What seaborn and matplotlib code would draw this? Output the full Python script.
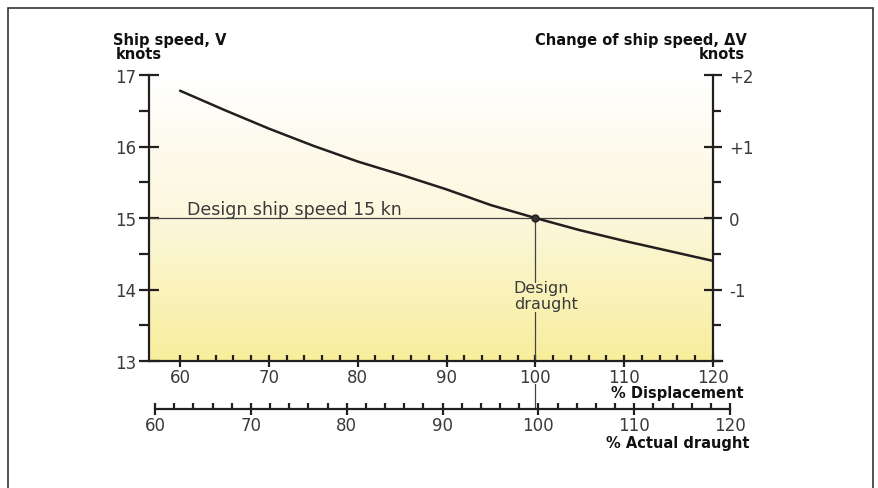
"""
Ship speed vs displacement / actual draught, with change of speed on the right.
"""

import numpy as np
import pandas as pd
import matplotlib
matplotlib.use("Agg")
import matplotlib.pyplot as plt
from matplotlib.ticker import MultipleLocator
from matplotlib.colors import LinearSegmentedColormap
from matplotlib.patches import Rectangle
import seaborn as sns

# values
displacement = [60, 65, 70, 75, 80, 85, 90, 95, 100, 105, 110, 115, 120]
ship_speed = [16.78, 16.51, 16.25, 16.01, 15.79, 15.60, 15.40, 15.18, 15.00,
              14.83, 14.68, 14.54, 14.40]
design_speed = 15
design_displacement = 100
speed_ticks = [13, 14, 15, 16, 17]
delta_ticks = [-1, 0, 1, 2]
delta_labels = ["-1", "0", "+1", "+2"]
displacement_ticks = [60, 70, 80, 90, 100, 110, 120]
draught_ticks = [60, 70, 80, 90, 100, 110, 120]
minor_pct_ticks = [v for v in range(62, 120, 2) if v % 10]

sns.set_theme(style="white")
plt.rcParams['font.family'] = ['DejaVu Sans']

ink = "#231f20"
label_grey = "#3a3a3a"
tick_fs = 12

W, H = 879, 489
fig = plt.figure(figsize=(W / 100, H / 100), dpi=100)

# main axes: spine positions measured in pixels
x0, x1, ytop, ybot = 149, 713, 76, 362
ax = fig.add_axes([x0 / W, (H - ybot) / H, (x1 - x0) / W, (ybot - ytop) / H])

# white -> yellow background gradient (yellow at the bottom)
cmap = LinearSegmentedColormap.from_list("bg", ["#ffffff", "#fcf7dc", "#f7ee9c"])
grad = np.linspace(0, 1, 256).reshape(-1, 1)
ax.imshow(grad, aspect="auto", cmap=cmap, extent=[56.5, 120, 13, 17],
          origin="upper", zorder=0)
ax.set_xlim(56.5, 120)
ax.set_ylim(13, 17)

df = pd.DataFrame({"Displacement": displacement, "Speed": ship_speed})
sns.lineplot(data=df, x="Displacement", y="Speed", ax=ax, color=ink,
             linewidth=1.8, zorder=3)

# design speed line and design draught line
ax.axhline(design_speed, color="#444444", linewidth=0.9, zorder=2)
ax.plot([design_displacement, design_displacement], [design_speed, 14.105],
        color="#444444", linewidth=0.9, zorder=2)
ax.plot([design_displacement, design_displacement], [13.685, 13.0],
        color="#444444", linewidth=0.9, zorder=2)
ax.plot([design_displacement, design_displacement], [12.68, 12.33],
        color="#444444", linewidth=0.9, zorder=2, clip_on=False)
ax.plot([design_displacement], [design_speed], marker="o", markersize=5,
        color="#333333", markeredgecolor=ink, zorder=4)

ax.text(60.8, 15.056, "Design ship speed 15 kn", fontsize=12.5,
        color=label_grey, va="baseline", ha="left")
ax.text(100.7, 14.03, "Design", fontsize=11.5, color=label_grey,
        ha="center", va="center")
ax.text(101.2, 13.80, "draught", fontsize=11.5, color=label_grey,
        ha="center", va="center")

ax.set_xlabel("")
ax.set_ylabel("")

for s in ["top", "right"]:
    ax.spines[s].set_visible(False)
for s in ["left", "bottom"]:
    ax.spines[s].set_color(ink)
    ax.spines[s].set_linewidth(1.6)
ax.spines["bottom"].set_bounds(56.5, 121)

ax.set_yticks(speed_ticks)
ax.yaxis.set_minor_locator(MultipleLocator(0.5))
ax.tick_params(axis="y", which="major", direction="inout", length=14,
               width=1.6, color=ink, labelsize=tick_fs, labelcolor=label_grey,
               pad=2, left=True)
ax.tick_params(axis="y", which="minor", direction="out", length=7,
               width=1.6, color=ink, left=True)

ax.set_xticks(displacement_ticks)
ax.set_xticks(minor_pct_ticks, minor=True)
ax.tick_params(axis="x", which="major", direction="inout", length=8.5,
               width=1.6, color=ink, labelsize=tick_fs, labelcolor=label_grey,
               pad=1, bottom=True)
ax.tick_params(axis="x", which="minor", direction="in", length=4.3,
               width=1.6, color=ink, bottom=True, top=False)

# right axis: change of speed
ax2 = ax.twinx()
ax2.set_ylim(-2, 2)
for s in ["top", "left", "bottom"]:
    ax2.spines[s].set_visible(False)
ax2.spines["right"].set_color(ink)
ax2.spines["right"].set_linewidth(1.6)
ax2.set_yticks(delta_ticks, delta_labels)
ax2.yaxis.set_minor_locator(MultipleLocator(0.5))
ax2.tick_params(axis="y", which="major", direction="inout", length=13,
                width=1.6, color=ink, labelsize=tick_fs, labelcolor=label_grey,
                pad=5, right=True)
ax2.tick_params(axis="y", which="minor", direction="out", length=6,
                width=1.6, color=ink, right=True)
ax2.grid(False)

# second scale: actual draught
yd = 410
ax3 = fig.add_axes([155 / W, (H - yd) / H, (730 - 155) / W, 0.0001])
ax3.set_xlim(60, 120)
ax3.set_yticks([])
for s in ["top", "left", "right"]:
    ax3.spines[s].set_visible(False)
ax3.spines["bottom"].set_color(ink)
ax3.spines["bottom"].set_linewidth(1.6)
ax3.patch.set_alpha(0)
ax3.set_xticks(draught_ticks)
ax3.set_xticks(minor_pct_ticks, minor=True)
ax3.tick_params(axis="x", which="major", direction="inout", length=8,
                width=1.6, color=ink, labelsize=tick_fs, labelcolor=label_grey,
                pad=1, bottom=True)
ax3.tick_params(axis="x", which="minor", direction="in", length=4.3,
                width=1.6, color=ink, bottom=True, top=False)

# axis titles
bold = dict(fontsize=10.5, fontweight="bold", color="#111111")
fig.text(113 / W, 1 - 45 / H, "Ship speed, V", ha="left", va="baseline", **bold)
fig.text(116 / W, 1 - 59 / H, "knots", ha="left", va="baseline", **bold)
fig.text(747 / W, 1 - 45 / H, "Change of ship speed, \u0394V", ha="right",
         va="baseline", **bold)
fig.text(745 / W, 1 - 59 / H, "knots", ha="right", va="baseline", **bold)
fig.text(744 / W, 1 - 394 / H, "% Displacement", ha="right", va="center", **bold)
fig.text(750 / W, 1 - 444 / H, "% Actual draught", ha="right", va="center", **bold)

# frame around the figure
fig.patches.append(Rectangle((8 / W, -0.05), (873 - 8) / W, 1.05 - 9 / H,
                             transform=fig.transFigure, fill=False,
                             edgecolor="#333333", linewidth=1.2))

fig.savefig("out.png", dpi=100)
